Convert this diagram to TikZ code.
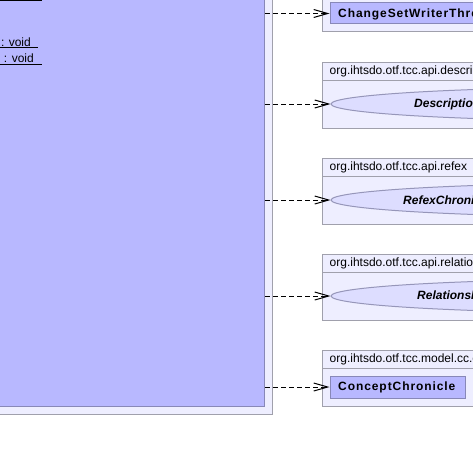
\documentclass[tikz,border=0pt]{standalone}
\usepackage{fontspec}
\setmainfont{Liberation Sans}
\newfontfamily\clsfont[LetterSpace=7.7]{Liberation Sans}
\usetikzlibrary{arrows.meta,shapes.geometric}
\definecolor{clsfill}{RGB}{184,184,255}
\definecolor{clsdraw}{RGB}{136,136,184}
\definecolor{pkgfill}{RGB}{238,238,255}
\definecolor{pkgdraw}{RGB}{160,160,172}
\definecolor{ellfill}{RGB}{221,221,255}
\definecolor{elldraw}{RGB}{150,150,185}
\tikzset{
  pkg/.style={draw=pkgdraw, fill=pkgfill, line width=1pt, rectangle, inner sep=0pt},
  pkgline/.style={draw=pkgdraw, line width=1pt},
  cls/.style={draw=clsdraw, fill=clsfill, line width=1pt, rectangle, inner sep=0pt},
  iface/.style={draw=elldraw, fill=ellfill, line width=1pt, ellipse, inner sep=0pt},
  pkglabel/.style={anchor=west, inner sep=0pt, font=\fontsize{12}{14}\selectfont},
  clsname/.style={anchor=west, inner sep=0pt, font=\fontsize{12}{14}\selectfont\clsfont\bfseries},
  ifname/.style={anchor=west, inner sep=0pt, font=\fontsize{12}{14}\selectfont\bfseries\itshape},
  memtext/.style={anchor=base east, inner sep=0pt, font=\fontsize{12}{14}\selectfont},
  memline/.style={draw=black, line width=1pt},
  dep/.style={draw=black, line width=1pt, dash pattern=on 5pt off 3pt,
    -{Straight Barb[length=14pt,width=8pt]}}
}
\begin{document}
\begin{tikzpicture}[x=1pt,y=-1pt]
\useasboundingbox (0,0) rectangle (473,452);
\clip (0,0) rectangle (473,452);
\fill[white] (0,0) rectangle (473,452);
% left package and big class
\node[pkg, minimum width=282pt, minimum height=424pt] (leftpkg) at (131,202) {};
\node[cls, minimum width=274.5pt, minimum height=416pt] (main) at (127.25,198) {};
\draw[memline] (0,1) -- (42,1);
\node[memtext] (m1) at (31,46.5) {: void};
\draw[memline] (0,48) -- (38,48);
\node[memtext] (m2) at (34,62) {g : void};
\draw[memline] (0,64) -- (42,64);
% package 1
\node[pkg, minimum width=318pt, minimum height=42pt] (p1) at (481,11) {};
\node[cls, minimum width=310pt, minimum height=21pt] (c1) at (485,13.5) {};
\node[clsname] (t1) at (338,14) {ChangeSetWriterThread};
% package 2
\node[pkg, minimum width=318pt, minimum height=66pt] (p2) at (481,95) {};
\draw[pkgline] (322,80) -- (640,80);
\node[pkglabel] (l2) at (329.5,71) {org.ihtsdo.otf.tcc.api.description};
\node[iface, minimum width=600pt, minimum height=34pt] (e2) at (631,104) {};
\node[ifname] (t2) at (414,104) {DescriptionChronicleBI};
% package 3
\node[pkg, minimum width=318pt, minimum height=66pt] (p3) at (481,191) {};
\draw[pkgline] (322,176) -- (640,176);
\node[pkglabel] (l3) at (329.5,167) {org.ihtsdo.otf.tcc.api.refex};
\node[iface, minimum width=600pt, minimum height=34pt] (e3) at (631,200) {};
\node[ifname] (t3) at (403,200) {RefexChronicleBI};
% package 4
\node[pkg, minimum width=318pt, minimum height=66pt] (p4) at (481,287) {};
\draw[pkgline] (322,272) -- (640,272);
\node[pkglabel] (l4) at (329.5,263) {org.ihtsdo.otf.tcc.api.relationship};
\node[iface, minimum width=600pt, minimum height=34pt] (e4) at (631,296) {};
\node[ifname] (t4) at (417,296) {RelationshipChronicleBI};
% package 5
\node[pkg, minimum width=318pt, minimum height=56pt] (p5) at (481,378) {};
\draw[pkgline] (322,368) -- (640,368);
\node[pkglabel] (l5) at (329.5,359) {org.ihtsdo.otf.tcc.model.cc.concept};
\node[cls, minimum width=135pt, minimum height=22pt] (c5) at (397.5,387) {};
\node[clsname] (t5) at (338,387) {ConceptChronicle};
% dependencies
\draw[dep] (main.east |- c1.west) -- (c1.west);
\draw[dep] (main.east |- e2.west) -- (e2.west);
\draw[dep] (main.east |- e3.west) -- (e3.west);
\draw[dep] (main.east |- e4.west) -- (e4.west);
\draw[dep] (main.east |- c5.west) -- (c5.west);
\end{tikzpicture}
\end{document}
